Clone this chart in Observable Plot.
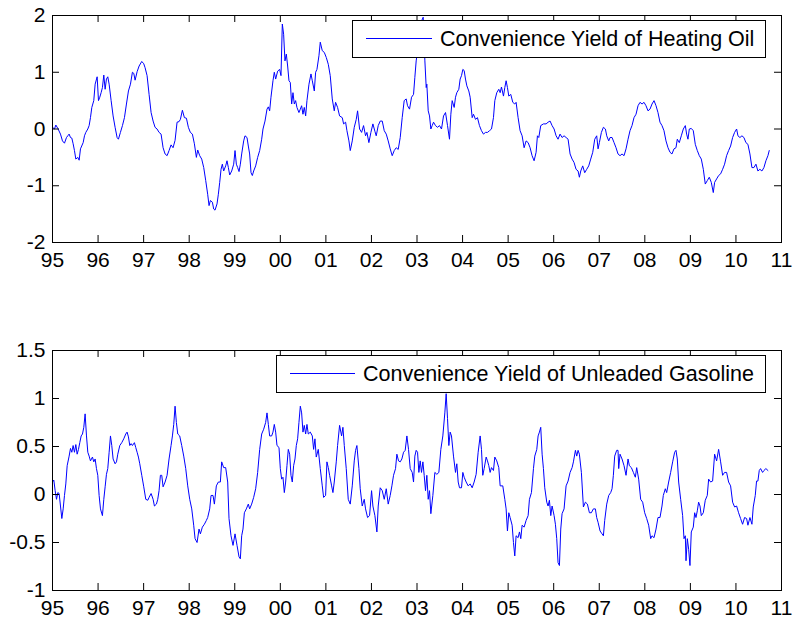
<!DOCTYPE html>
<html><head><meta charset="utf-8">
<script src="https://cdn.jsdelivr.net/npm/d3@7"></script>
<script src="https://cdn.jsdelivr.net/npm/@observablehq/plot@0.6"></script>
<style>
body{margin:0;background:#fff;}
#wrap{position:relative;width:793px;height:623px;overflow:hidden;background:#fff;}
#wrap svg{position:absolute;left:0;}
</style></head><body><div id="wrap"></div>
<script>
// ---- Data (decimal year, convenience yield) ----
const hoT=[1995.000,1995.044,1995.073,1995.117,1995.175,1995.219,1995.263,1995.307,1995.336,1995.365,1995.395,1995.424,1995.453,1995.482,1995.512,1995.556,1995.585,1995.614,1995.673,1995.702,1995.731,1995.775,1995.804,1995.833,1995.863,1995.906,1995.936,1995.980,
1996.009,1996.038,1996.067,1996.096,1996.126,1996.155,1996.184,1996.213,1996.243,1996.287,1996.330,1996.374,1996.418,1996.447,1996.491,1996.535,1996.579,1996.623,1996.667,1996.711,1996.754,1996.784,1996.813,1996.857,1996.901,1996.959,
1997.003,1997.032,1997.076,1997.120,1997.164,1997.208,1997.251,1997.295,1997.339,1997.383,1997.427,1997.471,1997.515,1997.558,1997.602,1997.646,1997.690,1997.734,1997.778,1997.807,1997.851,1997.895,1997.939,1997.982,
1998.026,1998.070,1998.114,1998.158,1998.187,1998.231,1998.275,1998.319,1998.363,1998.406,1998.436,1998.465,1998.509,1998.538,1998.567,1998.611,1998.640,1998.670,1998.699,1998.728,1998.757,1998.801,1998.830,1998.860,1998.889,1998.933,1998.977,
1999.006,1999.035,1999.064,1999.094,1999.123,1999.152,1999.196,1999.225,1999.269,1999.298,1999.327,1999.357,1999.386,1999.415,1999.459,1999.503,1999.547,1999.591,1999.620,1999.664,1999.708,1999.737,1999.766,1999.795,1999.839,1999.868,1999.898,1999.942,1999.985,
2000.015,2000.044,2000.073,2000.102,2000.132,2000.161,2000.190,2000.219,2000.249,2000.278,2000.307,2000.336,2000.365,2000.409,2000.439,2000.468,2000.497,2000.526,2000.556,2000.585,2000.629,2000.673,2000.702,2000.746,2000.775,2000.804,2000.848,2000.877,2000.921,2000.965,
2001.009,2001.053,2001.096,2001.140,2001.184,2001.213,2001.257,2001.301,2001.360,2001.389,2001.433,2001.462,2001.506,2001.535,2001.579,2001.623,2001.667,2001.696,2001.740,2001.784,2001.827,2001.871,2001.901,2001.944,2001.988,
2002.032,2002.076,2002.105,2002.149,2002.193,2002.237,2002.281,2002.325,2002.368,2002.412,2002.456,2002.500,2002.544,2002.588,2002.632,2002.675,2002.719,2002.763,2002.792,2002.836,2002.880,2002.924,2002.953,2002.982,
2003.012,2003.041,2003.070,2003.136,2003.173,2003.202,2003.216,2003.246,2003.275,2003.304,2003.333,2003.363,2003.406,2003.450,2003.494,2003.538,2003.582,2003.626,2003.670,2003.713,2003.743,2003.772,2003.816,2003.845,2003.874,2003.918,2003.947,2003.977,
2004.006,2004.035,2004.064,2004.094,2004.137,2004.167,2004.211,2004.240,2004.284,2004.327,2004.371,2004.415,2004.459,2004.503,2004.547,2004.591,2004.635,2004.678,2004.708,2004.751,2004.795,2004.825,2004.854,2004.898,2004.927,2004.956,2004.985,
2005.015,2005.058,2005.102,2005.146,2005.175,2005.219,2005.263,2005.307,2005.351,2005.395,2005.439,2005.482,2005.526,2005.570,2005.614,2005.643,2005.673,2005.716,2005.775,2005.833,2005.877,2005.921,2005.965,
2006.009,2006.053,2006.096,2006.140,2006.184,2006.228,2006.272,2006.316,2006.360,2006.404,2006.447,2006.491,2006.535,2006.564,2006.594,2006.637,2006.681,2006.725,2006.769,2006.813,2006.857,2006.901,2006.944,2006.974,
2007.003,2007.047,2007.091,2007.135,2007.164,2007.208,2007.237,2007.281,2007.325,2007.368,2007.412,2007.456,2007.500,2007.544,2007.588,2007.632,2007.675,2007.719,2007.763,2007.807,2007.851,2007.895,2007.939,2007.982,
2008.026,2008.070,2008.114,2008.158,2008.202,2008.246,2008.289,2008.333,2008.377,2008.421,2008.465,2008.509,2008.553,2008.596,2008.640,2008.684,2008.713,2008.757,2008.801,2008.845,2008.889,2008.918,2008.947,2008.977,
2009.020,2009.064,2009.108,2009.152,2009.196,2009.240,2009.284,2009.327,2009.371,2009.415,2009.459,2009.503,2009.532,2009.576,2009.620,2009.664,2009.708,2009.751,2009.795,2009.839,2009.883,2009.927,2009.971,
2010.015,2010.044,2010.088,2010.132,2010.175,2010.219,2010.263,2010.307,2010.351,2010.395,2010.439,2010.482,2010.526,2010.570,2010.614,2010.658,2010.702,2010.731];
const hoV=[0.03,0.00,0.07,0.01,-0.09,-0.21,-0.25,-0.15,-0.12,-0.09,-0.15,-0.16,-0.26,-0.38,-0.53,-0.50,-0.55,-0.35,-0.24,-0.12,-0.06,0.00,0.06,0.20,0.38,0.50,0.79,0.92,
0.50,0.56,0.64,0.73,0.95,0.70,0.88,0.92,0.79,0.50,0.23,0.03,-0.15,-0.18,-0.06,0.06,0.20,0.44,0.67,0.79,1.00,0.98,0.86,1.01,1.11,1.19,
1.15,1.08,0.94,0.61,0.29,0.14,0.03,0.00,-0.06,-0.09,-0.33,-0.44,-0.47,-0.38,-0.28,-0.33,-0.20,0.12,0.13,0.17,0.33,0.20,0.19,0.03,
-0.06,-0.09,-0.26,-0.50,-0.37,-0.47,-0.53,-0.68,-0.91,-1.15,-1.35,-1.26,-1.29,-1.41,-1.43,-1.32,-1.15,-0.94,-0.71,-0.62,-0.74,-0.65,-0.56,-0.68,-0.81,-0.74,-0.62,
-0.38,-0.62,-0.68,-0.75,-0.62,-0.44,-0.21,-0.12,-0.15,-0.30,-0.44,-0.77,-0.82,-0.74,-0.65,-0.50,-0.38,-0.18,0.00,0.14,0.35,0.39,0.32,0.56,0.85,1.00,0.88,1.02,1.05,
0.94,1.85,1.67,1.20,1.32,1.11,0.85,0.82,0.44,0.64,0.44,0.50,0.38,0.29,0.35,0.41,0.26,0.38,0.23,0.50,0.79,0.97,0.85,0.67,1.00,1.05,1.29,1.53,1.38,1.35,
1.26,1.14,0.94,0.53,0.32,0.47,0.38,0.23,0.20,0.09,0.12,-0.03,-0.21,-0.38,-0.21,0.03,0.17,0.32,0.00,-0.06,0.06,-0.12,-0.06,-0.24,-0.06,
0.09,-0.04,-0.12,0.06,0.14,0.14,-0.03,-0.09,-0.21,-0.35,-0.47,-0.38,-0.33,-0.36,-0.15,0.20,0.50,0.53,0.41,0.35,0.56,0.61,0.91,1.20,
1.38,1.67,1.85,1.97,1.20,0.73,0.79,0.32,0.23,0.00,0.06,0.12,0.06,0.03,0.06,0.00,0.23,0.29,0.06,-0.18,0.26,0.50,0.38,0.56,0.64,0.70,0.88,0.94,
1.05,1.03,0.88,0.76,0.67,0.56,0.20,0.26,0.17,0.20,0.06,-0.03,-0.09,-0.06,-0.06,-0.03,0.00,0.20,0.50,0.64,0.70,0.64,0.74,0.58,0.73,0.85,0.73,
0.58,0.61,0.47,0.44,0.47,0.20,-0.03,-0.12,-0.33,-0.21,-0.24,-0.33,-0.47,-0.56,-0.41,-0.12,-0.15,0.06,0.09,0.09,0.12,0.14,0.06,
0.00,-0.12,-0.18,-0.09,-0.15,-0.12,-0.15,-0.18,-0.44,-0.53,-0.59,-0.71,-0.74,-0.85,-0.74,-0.65,-0.77,-0.71,-0.65,-0.53,-0.41,-0.18,-0.12,-0.35,
-0.24,-0.06,0.03,0.00,-0.12,-0.21,-0.15,-0.15,-0.24,-0.33,-0.44,-0.47,-0.44,-0.47,-0.35,-0.18,-0.03,0.06,0.20,0.26,0.41,0.47,0.44,0.47,
0.41,0.32,0.35,0.44,0.50,0.41,0.29,0.12,0.06,-0.03,-0.21,-0.33,-0.41,-0.44,-0.35,-0.33,-0.18,-0.24,-0.12,0.00,0.06,-0.09,-0.18,0.00,
0.01,-0.03,-0.27,-0.38,-0.47,-0.53,-0.71,-0.97,-0.91,-0.85,-0.94,-1.12,-0.94,-0.88,-0.82,-0.79,-0.71,-0.62,-0.47,-0.38,-0.30,-0.15,-0.06,
0.00,-0.12,-0.15,-0.12,-0.15,-0.24,-0.27,-0.44,-0.68,-0.68,-0.62,-0.74,-0.71,-0.74,-0.68,-0.56,-0.47,-0.38];

const ugT=[1995.000,1995.029,1995.058,1995.088,1995.117,1995.146,1995.175,1995.205,1995.234,1995.263,1995.292,1995.322,1995.365,1995.395,1995.424,1995.453,1995.482,1995.512,1995.541,1995.570,1995.599,1995.629,1995.658,1995.687,1995.716,1995.746,1995.775,1995.804,1995.833,1995.877,1995.906,1995.936,1995.965,1995.994,
1996.023,1996.053,1996.096,1996.126,1996.155,1996.184,1996.213,1996.243,1996.272,1996.301,1996.330,1996.374,1996.404,1996.433,1996.477,1996.520,1996.564,1996.608,1996.637,1996.667,1996.696,1996.725,1996.754,1996.798,1996.827,1996.857,1996.886,1996.915,1996.959,
1997.003,1997.047,1997.091,1997.120,1997.164,1997.208,1997.237,1997.281,1997.310,1997.339,1997.368,1997.398,1997.427,1997.471,1997.515,1997.558,1997.602,1997.632,1997.661,1997.690,1997.719,1997.749,1997.792,1997.836,1997.880,1997.924,1997.968,
1998.012,1998.056,1998.099,1998.129,1998.173,1998.216,1998.246,1998.289,1998.333,1998.377,1998.406,1998.450,1998.480,1998.523,1998.553,1998.596,1998.640,1998.684,1998.713,1998.757,1998.801,1998.845,1998.874,1998.918,1998.962,
1999.006,1999.050,1999.094,1999.123,1999.152,1999.181,1999.211,1999.254,1999.298,1999.327,1999.371,1999.415,1999.459,1999.503,1999.547,1999.591,1999.635,1999.678,1999.708,1999.737,1999.766,1999.810,1999.839,1999.868,1999.898,1999.927,1999.971,
2000.000,2000.029,2000.058,2000.088,2000.117,2000.146,2000.175,2000.205,2000.234,2000.263,2000.292,2000.322,2000.351,2000.380,2000.409,2000.439,2000.468,2000.497,2000.526,2000.556,2000.585,2000.614,2000.658,2000.702,2000.731,2000.760,2000.789,2000.833,2000.877,2000.921,2000.950,2000.994,
2001.023,2001.053,2001.082,2001.126,2001.155,2001.184,2001.228,2001.257,2001.301,2001.345,2001.374,2001.404,2001.447,2001.491,2001.535,2001.579,2001.623,2001.652,2001.681,2001.725,2001.754,2001.798,2001.842,2001.871,2001.915,2001.959,
2002.003,2002.032,2002.076,2002.120,2002.149,2002.193,2002.237,2002.281,2002.325,2002.368,2002.412,2002.449,2002.485,2002.529,2002.558,2002.595,2002.632,2002.668,2002.705,2002.741,2002.778,2002.814,2002.851,2002.895,2002.924,2002.953,2002.982,
2003.012,2003.041,2003.070,2003.099,2003.129,2003.158,2003.187,2003.216,2003.246,2003.275,2003.304,2003.348,2003.392,2003.436,2003.480,2003.523,2003.567,2003.611,2003.640,2003.670,2003.699,2003.728,2003.757,2003.801,2003.845,2003.874,2003.904,2003.933,2003.977,
2004.006,2004.035,2004.079,2004.123,2004.167,2004.211,2004.254,2004.298,2004.342,2004.386,2004.415,2004.444,2004.474,2004.518,2004.547,2004.576,2004.605,2004.635,2004.678,2004.708,2004.751,2004.795,2004.825,2004.883,2004.927,2004.956,2004.985,
2005.015,2005.044,2005.088,2005.117,2005.146,2005.175,2005.219,2005.249,2005.278,2005.307,2005.351,2005.395,2005.439,2005.468,2005.512,2005.556,2005.585,2005.629,2005.658,2005.687,2005.716,2005.746,2005.775,2005.804,2005.848,2005.877,2005.906,2005.936,2005.965,
2006.009,2006.038,2006.067,2006.096,2006.126,2006.155,2006.184,2006.228,2006.272,2006.316,2006.360,2006.404,2006.433,2006.477,2006.506,2006.535,2006.564,2006.608,2006.652,2006.696,2006.740,2006.784,2006.827,2006.871,2006.915,2006.944,2006.974,
2007.018,2007.061,2007.091,2007.120,2007.164,2007.208,2007.251,2007.281,2007.310,2007.339,2007.383,2007.412,2007.427,2007.456,2007.500,2007.544,2007.588,2007.632,2007.661,2007.705,2007.749,2007.792,2007.822,2007.865,2007.909,2007.953,2007.997,
2008.041,2008.085,2008.129,2008.158,2008.202,2008.246,2008.289,2008.333,2008.377,2008.406,2008.450,2008.480,2008.523,2008.567,2008.611,2008.655,2008.684,2008.713,2008.743,2008.787,2008.830,2008.860,2008.889,2008.904,2008.933,2008.962,2008.991,
2009.020,2009.064,2009.094,2009.123,2009.152,2009.181,2009.211,2009.240,2009.284,2009.327,2009.371,2009.401,2009.444,2009.488,2009.532,2009.576,2009.620,2009.664,2009.708,2009.751,2009.795,2009.839,2009.883,2009.927,2009.971,
2010.015,2010.058,2010.102,2010.146,2010.190,2010.234,2010.263,2010.307,2010.351,2010.380,2010.424,2010.453,2010.482,2010.512,2010.541,2010.585,2010.614,2010.658,2010.702];
const ugV=[0.13,0.15,0.04,-0.05,0.02,0.01,-0.12,-0.25,-0.15,-0.01,0.11,0.30,0.40,0.48,0.44,0.51,0.44,0.52,0.42,0.47,0.54,0.61,0.63,0.70,0.84,0.61,0.44,0.40,0.35,0.39,0.34,0.37,0.27,0.20,
-0.01,-0.15,-0.22,-0.05,0.08,0.21,0.27,0.44,0.61,0.51,0.37,0.32,0.34,0.42,0.51,0.54,0.58,0.63,0.65,0.60,0.51,0.53,0.51,0.54,0.49,0.44,0.39,0.32,0.20,
0.08,-0.05,-0.06,-0.03,0.01,-0.05,-0.12,-0.10,-0.05,0.04,0.20,0.20,0.08,0.13,0.20,0.37,0.51,0.61,0.73,0.92,0.75,0.63,0.61,0.51,0.40,0.27,0.09,
-0.05,-0.15,-0.32,-0.46,-0.50,-0.36,-0.41,-0.34,-0.31,-0.27,-0.24,-0.15,-0.01,-0.01,-0.10,0.09,0.13,0.13,0.34,0.28,0.28,0.13,-0.25,-0.43,-0.53,
-0.41,-0.53,-0.65,-0.67,-0.43,-0.36,-0.19,-0.15,-0.10,-0.15,-0.10,-0.03,0.06,0.23,0.47,0.63,0.68,0.75,0.85,0.73,0.61,0.61,0.65,0.73,0.65,0.51,0.49,
0.27,0.16,0.18,0.02,0.13,0.30,0.47,0.42,0.20,0.13,0.30,0.37,0.51,0.58,0.75,0.92,0.85,0.65,0.72,0.63,0.73,0.63,0.65,0.61,0.47,0.58,0.39,0.47,0.27,0.09,-0.03,-0.01,
0.34,0.28,0.20,0.09,0.02,0.13,0.34,0.51,0.72,0.61,0.70,0.51,0.27,-0.05,-0.10,0.09,0.35,0.46,0.51,0.27,0.06,-0.12,-0.05,-0.15,-0.24,-0.22,
0.04,-0.12,-0.22,-0.39,-0.12,0.07,0.04,-0.05,0.06,-0.10,-0.01,0.09,0.20,0.27,0.42,0.35,0.34,0.37,0.44,0.46,0.61,0.47,0.27,0.23,0.13,0.40,0.46,
0.44,0.23,0.35,0.23,0.34,0.20,0.04,0.20,-0.05,0.04,-0.20,-0.01,0.23,0.21,0.23,0.47,0.61,0.85,1.05,0.79,0.51,0.65,0.61,0.40,0.23,0.32,0.13,0.07,0.07,
0.23,0.18,0.13,0.09,0.11,0.07,0.13,0.21,0.44,0.61,0.47,0.20,0.27,0.39,0.35,0.30,0.23,0.28,0.25,0.39,0.35,0.28,0.09,0.09,-0.05,-0.15,-0.38,
-0.19,-0.24,-0.32,-0.50,-0.64,-0.43,-0.45,-0.39,-0.46,-0.32,-0.34,-0.27,-0.22,-0.05,0.02,0.27,0.40,0.47,0.61,0.65,0.70,0.42,0.27,0.07,-0.08,-0.12,-0.06,-0.22,-0.12,
-0.22,-0.31,-0.46,-0.71,-0.74,-0.36,-0.20,-0.15,0.09,0.14,0.23,0.28,0.34,0.46,0.40,0.46,0.42,0.23,-0.13,-0.08,-0.10,-0.19,-0.19,-0.15,-0.15,-0.24,-0.29,
-0.38,-0.41,-0.43,-0.27,-0.10,-0.01,0.02,0.06,0.20,0.40,0.46,0.46,0.27,0.42,0.37,0.30,0.20,0.37,0.30,0.28,0.23,0.18,0.28,0.16,-0.05,-0.08,-0.19,
-0.25,-0.32,-0.46,-0.43,-0.45,-0.36,-0.24,-0.24,-0.12,-0.01,0.06,0.02,0.13,0.23,0.34,0.44,0.46,0.37,0.13,-0.05,-0.22,-0.46,-0.43,-0.69,-0.46,-0.57,-0.74,
-0.39,-0.34,-0.19,-0.24,-0.17,-0.08,-0.12,-0.22,-0.19,-0.06,-0.01,0.16,0.13,0.14,0.42,0.35,0.47,0.34,0.20,0.23,0.23,0.13,0.09,-0.08,-0.13,
-0.12,-0.19,-0.25,-0.31,-0.24,-0.25,-0.32,-0.24,-0.31,-0.13,-0.01,0.14,0.14,0.25,0.27,0.23,0.25,0.27,0.25];

const xTicks=[1995,1996,1997,1998,1999,2000,2001,2002,2003,2004,2005,2006,2007,2008,2009,2010,2011];
const hoYTicks=[-2,-1,0,1,2];
const ugYTicks=[-1,-0.5,0,0.5,1,1.5];
const hoLabel="Convenience Yield of Heating Oil";
const ugLabel="Convenience Yield of Unleaded Gasoline";

const FONT='"Liberation Sans", Arial, Helvetica, sans-serif';
const W=793, mL=52, mR=12, TICK=7;
const yearFmt = d => String(d % 100).padStart(2, "0");

function panel(t, v, yDomain, yTicks, top, height, mT, mB) {
  const data = t.map((d, i) => ({t: d, v: v[i]}));
  const plotH = height - mT - mB, plotW = W - mL - mR;
  const svg = Plot.plot({
    width: W, height, marginLeft: mL, marginRight: mR, marginTop: mT, marginBottom: mB,
    style: {fontFamily: FONT, fontSize: "21px", color: "#000", background: "transparent", overflow: "visible"},
    x: {domain: [1995, 2011]},
    y: {domain: yDomain},
    marks: [
      Plot.line(data, {x: "t", y: "v", stroke: "#0000ff", strokeWidth: 1, clip: true}),
      Plot.tickX(xTicks, {x: d => d, insetTop: plotH - TICK, stroke: "#000"}),
      Plot.tickX(xTicks, {x: d => d, insetBottom: plotH - TICK, stroke: "#000"}),
      Plot.tickY(yTicks, {y: d => d, insetLeft: plotW - TICK, stroke: "#000"}),
      Plot.tickY(yTicks, {y: d => d, insetRight: plotW - TICK, stroke: "#000"}),
      Plot.frame({stroke: "#000"}),
      Plot.axisX(xTicks, {tickSize: 0, tickPadding: 10, tickFormat: yearFmt, label: null, fill: "#000"}),
      Plot.axisY(yTicks, {tickSize: 0, tickPadding: 7, tickFormat: d => String(d), label: null, fill: "#000"})
    ]
  });
  svg.style.top = top + "px";
  return svg;
}

const wrap = document.getElementById("wrap");
wrap.appendChild(panel(hoT, hoV, [-2, 2], hoYTicks, 0, 300, 15, 58));
wrap.appendChild(panel(ugT, ugV, [-1, 1.5], ugYTicks, 300, 323, 50, 33));

// Legends (MATLAB-style boxes)
const ns = "http://www.w3.org/2000/svg";
const ov = document.createElementNS(ns, "svg");
ov.setAttribute("width", W); ov.setAttribute("height", 623);
ov.style.top = "0px";
function legend(x, y, w, h, lx1, lx2, ly, tx, ty, label) {
  const g = document.createElementNS(ns, "g");
  const r = document.createElementNS(ns, "rect");
  r.setAttribute("x", x); r.setAttribute("y", y); r.setAttribute("width", w); r.setAttribute("height", h);
  r.setAttribute("fill", "#fff"); r.setAttribute("stroke", "#000"); r.setAttribute("stroke-width", 1);
  const l = document.createElementNS(ns, "line");
  l.setAttribute("x1", lx1); l.setAttribute("x2", lx2); l.setAttribute("y1", ly); l.setAttribute("y2", ly);
  l.setAttribute("stroke", "#0000ff"); l.setAttribute("stroke-width", 1);
  const tx_ = document.createElementNS(ns, "text");
  tx_.setAttribute("x", tx); tx_.setAttribute("y", ty);
  tx_.setAttribute("font-family", FONT); tx_.setAttribute("font-size", "21.5px"); tx_.setAttribute("fill", "#000");
  tx_.textContent = label;
  g.append(r, l, tx_);
  ov.appendChild(g);
}
legend(352.5, 20.5, 413, 37, 366, 432, 38.5, 440, 45.7, hoLabel);
legend(276.5, 355.5, 489, 37, 290, 355, 373.5, 363, 381, ugLabel);
wrap.appendChild(ov);
</script></body></html>
